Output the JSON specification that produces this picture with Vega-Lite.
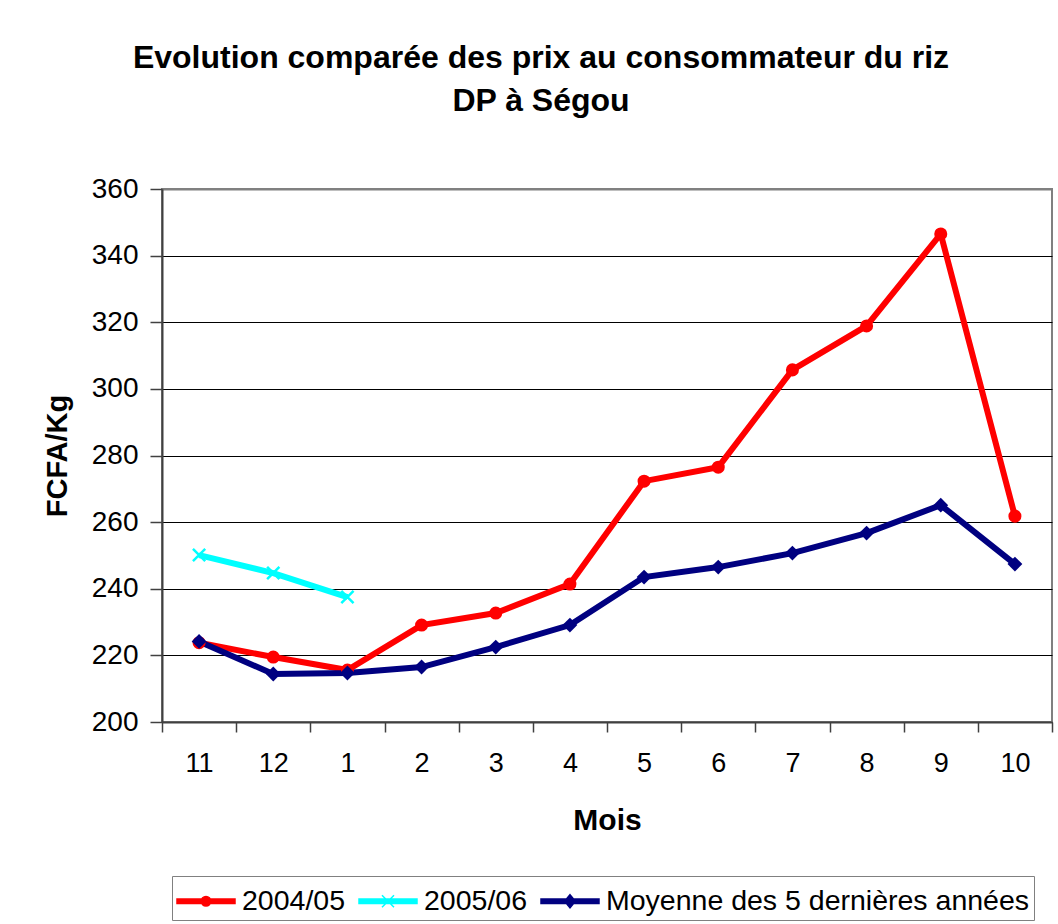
{
  "$schema": "https://vega.github.io/schema/vega-lite/v6.json",
  "width": 890,
  "height": 533,
  "autosize": {"type": "none"},
  "padding": {"left": 162, "top": 189, "right": 6, "bottom": 202},
  "background": "white",
  "title": {
    "text": ["Evolution comparée des prix au consommateur du riz", "DP à Ségou"],
    "anchor": "middle",
    "frame": "group",
    "dx": -66,
    "offset": 57,
    "font": "Liberation Sans",
    "fontSize": 32,
    "fontWeight": "bold",
    "lineHeight": 43,
    "color": "black"
  },
  "config": {
    "view": {"stroke": "#808080", "strokeWidth": 2},
    "font": "Liberation Sans"
  },
  "data": {
    "values": [
      {"month": "11", "series": "2004/05", "value": 223.8},
      {"month": "12", "series": "2004/05", "value": 219.5},
      {"month": "1", "series": "2004/05", "value": 215.6},
      {"month": "2", "series": "2004/05", "value": 229.1},
      {"month": "3", "series": "2004/05", "value": 232.7},
      {"month": "4", "series": "2004/05", "value": 241.4},
      {"month": "5", "series": "2004/05", "value": 272.3},
      {"month": "6", "series": "2004/05", "value": 276.5},
      {"month": "7", "series": "2004/05", "value": 305.7},
      {"month": "8", "series": "2004/05", "value": 318.9},
      {"month": "9", "series": "2004/05", "value": 346.5},
      {"month": "10", "series": "2004/05", "value": 261.8},
      {"month": "11", "series": "2005/06", "value": 250.1},
      {"month": "12", "series": "2005/06", "value": 244.7},
      {"month": "1", "series": "2005/06", "value": 237.5},
      {"month": "11", "series": "Moyenne des 5 dernières années", "value": 224.2},
      {"month": "12", "series": "Moyenne des 5 dernières années", "value": 214.4},
      {"month": "1", "series": "Moyenne des 5 dernières années", "value": 214.7},
      {"month": "2", "series": "Moyenne des 5 dernières années", "value": 216.5},
      {"month": "3", "series": "Moyenne des 5 dernières années", "value": 222.5},
      {"month": "4", "series": "Moyenne des 5 dernières années", "value": 229.1},
      {"month": "5", "series": "Moyenne des 5 dernières années", "value": 243.5},
      {"month": "6", "series": "Moyenne des 5 dernières années", "value": 246.5},
      {"month": "7", "series": "Moyenne des 5 dernières années", "value": 250.7},
      {"month": "8", "series": "Moyenne des 5 dernières années", "value": 256.7},
      {"month": "9", "series": "Moyenne des 5 dernières années", "value": 265.1},
      {"month": "10", "series": "Moyenne des 5 dernières années", "value": 247.4}
    ]
  },
  "encoding": {
    "x": {
      "field": "month",
      "type": "ordinal",
      "sort": ["11", "12", "1", "2", "3", "4", "5", "6", "7", "8", "9", "10"],
      "scale": {"type": "band", "paddingInner": 0, "paddingOuter": 0},
      "bandPosition": 0.5,
      "axis": {
        "title": "Mois",
        "tickBand": "extent",
        "labelAngle": 0,
        "domainColor": "#404040",
        "domainWidth": 2,
        "tickColor": "#404040",
        "tickWidth": 1.5,
        "tickSize": 10,
        "labelFont": "Liberation Sans",
        "labelFontSize": 27,
        "labelColor": "black",
        "labelPadding": 18,
        "titleFont": "Liberation Sans",
        "titleFontSize": 30,
        "titleFontWeight": "bold",
        "titleColor": "black",
        "titlePadding": 29
      }
    },
    "y": {
      "field": "value",
      "type": "quantitative",
      "scale": {"domain": [200, 360], "nice": false, "zero": false},
      "axis": {
        "title": "FCFA/Kg",
        "values": [200, 220, 240, 260, 280, 300, 320, 340, 360],
        "grid": true,
        "gridColor": {"condition": {"test": "datum.value === 360", "value": "#808080"}, "value": "black"},
        "gridWidth": {"condition": {"test": "datum.value === 360", "value": 2}, "value": 1},
        "gridOpacity": 1,
        "domainColor": "#404040",
        "domainWidth": 2,
        "tickColor": "#404040",
        "tickWidth": 1.5,
        "tickSize": 12,
        "labelFont": "Liberation Sans",
        "labelFontSize": 28,
        "labelColor": "black",
        "labelPadding": 12,
        "titleFont": "Liberation Sans",
        "titleFontSize": 29,
        "titleFontWeight": "bold",
        "titleColor": "black",
        "titlePadding": 19
      }
    },
    "color": {
      "field": "series",
      "type": "nominal",
      "scale": {
        "domain": ["2004/05", "2005/06", "Moyenne des 5 dernières années"],
        "range": ["#FF0000", "#00FFFF", "#000080"]
      },
      "legend": {
        "orient": "none",
        "legendX": 10,
        "legendY": 687,
        "direction": "horizontal",
        "title": null,
        "strokeColor": "#808080",
        "fillColor": "white",
        "padding": 4,
        "labelFont": "Liberation Sans",
        "labelFontSize": 28.5,
        "labelColor": "black",
        "labelLimit": 0,
        "symbolSize": 1600,
        "symbolOpacity": 1,
        "symbolStrokeWidth": 1.5,
        "symbolOffset": 9,
        "labelOffset": 15,
        "columnPadding": 10
      }
    }
  },
  "layer": [
    {"mark": {"type": "line", "strokeWidth": 6}},
    {
      "mark": {"type": "point", "filled": true, "opacity": 0},
      "encoding": {
        "shape": {
          "field": "series",
          "type": "nominal",
          "scale": {
            "domain": ["2004/05", "2005/06", "Moyenne des 5 dernières années"],
            "range": [
              "M-1.45,-0.11H1.45V0.11H-1.45Z M0.24,0A0.24,0.24 0 1 1 -0.24,0A0.24,0.24 0 1 1 0.24,0Z",
              "M-1.45,-0.11H1.45V0.11H-1.45Z M-0.3,-0.3L0.3,0.3M-0.3,0.3L0.3,-0.3",
              "M-1.45,-0.11H1.45V0.11H-1.45Z M0,-0.33L0.27,0L0,0.33L-0.27,0Z"
            ]
          },
          "legend": null
        }
      }
    },
    {
      "transform": [{"filter": "datum.series === '2004/05'"}],
      "mark": {"type": "point", "shape": "circle", "filled": true, "opacity": 1, "size": 170}
    },
    {
      "transform": [{"filter": "datum.series === '2005/06'"}],
      "mark": {"type": "point", "shape": "M-1,-1L1,1M-1,1L1,-1", "filled": false, "opacity": 1, "strokeWidth": 2.5, "size": 150}
    },
    {
      "transform": [{"filter": "datum.series === 'Moyenne des 5 dernières années'"}],
      "mark": {"type": "point", "shape": "diamond", "filled": true, "opacity": 1, "size": 220}
    }
  ]
}
